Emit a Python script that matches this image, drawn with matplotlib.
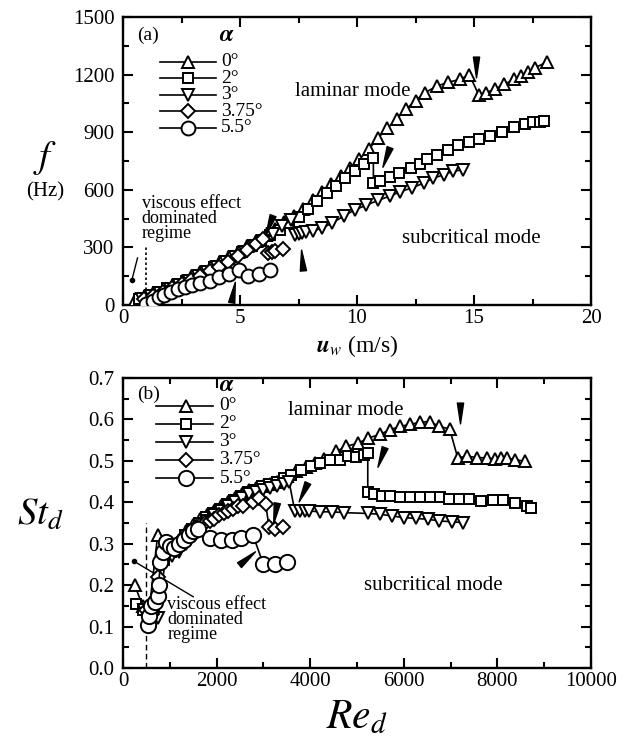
import numpy as np
import matplotlib
matplotlib.use("Agg")
import matplotlib.pyplot as plt
from matplotlib.markers import MarkerStyle
from matplotlib.path import Path
from matplotlib.transforms import Affine2D
from matplotlib.ticker import MultipleLocator

plt.rcParams['font.family'] = ['Liberation Serif', 'DejaVu Serif']
plt.rcParams['mathtext.fontset'] = 'stix'

# ---------------- (a) frequency vs. wind speed ----------------
alpha_labels = ['0°', '2°', '3°', '3.75°', '5.5°']

u_a0 = [0.5, 0.9, 1.3, 1.7, 2.1, 2.5, 2.9, 3.3, 3.7, 4.1, 4.5, 4.9, 5.3, 5.7, 6.1,
        6.5, 6.9, 7.3, 7.7, 8.1, 8.5, 8.9, 9.3, 9.7, 10.1, 10.5, 10.9, 11.3, 11.7,
        12.1, 12.5, 12.9, 13.4, 13.9, 14.4, 14.8, 15.2, 15.5, 15.9, 16.3, 16.7,
        17.0, 17.3, 17.6, 18.1]
f_a0 = [25, 40, 60, 80, 100, 120, 145, 170, 195, 220, 245, 275, 305, 335, 365,
        395, 430, 465, 500, 545, 590, 630, 670, 715, 760, 810, 870, 920, 970,
        1020, 1065, 1105, 1140, 1160, 1175, 1200, 1095, 1105, 1125, 1150, 1175,
        1195, 1215, 1235, 1265]

u_a2 = [0.7, 1.1, 1.5, 1.9, 2.3, 2.7, 3.1, 3.5, 3.9, 4.3, 4.7, 5.1, 5.5, 5.9, 6.3,
        6.7, 7.1, 7.5, 7.9, 8.3, 8.7, 9.1, 9.5, 9.9, 10.3, 10.7, 10.7, 11.0, 11.4,
        11.8, 12.3, 12.7, 13.0, 13.4, 13.9, 14.3, 14.8, 15.2, 15.7, 16.2, 16.7,
        17.2, 17.5, 17.8, 18.0]
f_a2 = [30, 48, 66, 86, 106, 126, 150, 174, 198, 222, 248, 276, 305, 334, 362,
        393, 427, 460, 498, 540, 582, 620, 660, 700, 735, 765, 635, 645, 668,
        688, 712, 732, 760, 782, 808, 832, 850, 862, 878, 902, 928, 945, 952,
        955, 958]

u_a3 = [0.8, 1.2, 1.6, 2.0, 2.4, 2.8, 3.2, 3.6, 4.0, 4.4, 4.8, 5.2, 5.6, 6.0, 6.4,
        6.8, 7.2, 7.35, 7.5, 7.65, 7.8, 8.1, 8.5, 8.95, 9.45, 9.9, 10.4, 10.9,
        11.4, 11.85, 12.35, 12.85, 13.25, 13.7, 14.1, 14.55]
f_a3 = [30, 46, 64, 84, 104, 126, 150, 174, 198, 222, 248, 276, 305, 335, 370,
        410, 445, 365, 370, 374, 378, 384, 401, 427, 465, 495, 520, 545, 567,
        590, 610, 635, 660, 678, 696, 705]

u_a375 = [0.9, 1.3, 1.7, 2.1, 2.5, 2.9, 3.3, 3.7, 4.1, 4.5, 4.9, 5.3, 5.7, 6.0,
          6.2, 6.35, 6.5, 6.85]
f_a375 = [30, 48, 68, 88, 108, 128, 152, 176, 200, 226, 254, 284, 316, 345,
          272, 276, 282, 292]

u_a55 = [1.0, 1.3, 1.55, 1.75, 2.05, 2.35, 2.65, 2.95, 3.3, 3.7, 4.1, 4.55, 4.95,
         5.35, 5.8, 6.3]
f_a55 = [5, 23, 40, 52, 66, 83, 95, 104, 114, 127, 144, 161, 184, 150, 162, 184]

# ---------------- (b) Strouhal number vs. Reynolds number ----------------
re_b0 = [250, 420, 560, 740, 900, 1050, 1200, 1350, 1500, 1650, 1800, 1950, 2100,
         2250, 2400, 2550, 2700, 2850, 3000, 3150, 3300, 3500, 3700, 3900, 4100,
         4300, 4560, 4770, 5030, 5240, 5490, 5700, 5920, 6130, 6340, 6550, 6760,
         6980, 7150, 7360, 7570, 7780, 7950, 8080, 8200, 8370, 8590]
st_b0 = [0.20, 0.15, 0.14, 0.32, 0.30, 0.29, 0.31, 0.33, 0.345, 0.36, 0.37, 0.38,
         0.39, 0.40, 0.41, 0.42, 0.43, 0.435, 0.44, 0.445, 0.45, 0.463, 0.475,
         0.485, 0.495, 0.505, 0.523, 0.535, 0.543, 0.555, 0.564, 0.575, 0.583,
         0.588, 0.593, 0.595, 0.583, 0.577, 0.508, 0.511, 0.508, 0.507, 0.505,
         0.507, 0.507, 0.503, 0.499]

re_b2 = [280, 430, 580, 740, 880, 1030, 1180, 1330, 1480, 1630, 1780, 1930, 2080,
         2230, 2380, 2530, 2680, 2830, 2980, 3130, 3280, 3430, 3585, 3797, 4009,
         4220, 4432, 4627, 4814, 4983, 5150, 5230, 5230, 5365, 5534, 5704, 5916,
         6127, 6339, 6551, 6763, 6975, 7187, 7399, 7653, 7907, 8119, 8373, 8627,
         8712]
st_b2 = [0.155, 0.14, 0.13, 0.21, 0.26, 0.28, 0.30, 0.32, 0.335, 0.35, 0.365,
         0.375, 0.385, 0.395, 0.405, 0.415, 0.425, 0.43, 0.44, 0.445, 0.45, 0.458,
         0.467, 0.479, 0.487, 0.495, 0.503, 0.503, 0.511, 0.509, 0.515, 0.518,
         0.425, 0.419, 0.415, 0.415, 0.413, 0.413, 0.413, 0.413, 0.413, 0.409,
         0.409, 0.407, 0.403, 0.405, 0.405, 0.399, 0.391, 0.387]

re_b3 = [450, 600, 750, 900, 1050, 1200, 1350, 1500, 1650, 1800, 1950, 2100, 2250,
         2400, 2550, 2700, 2850, 3000, 3150, 3300, 3450, 3550, 3670, 3780, 3880,
         3980, 4220, 4475, 4730, 5240, 5490, 5750, 6000, 6255, 6510, 6760, 7020,
         7270]
st_b3 = [0.14, 0.13, 0.12, 0.26, 0.27, 0.28, 0.30, 0.32, 0.34, 0.355, 0.37, 0.38,
         0.39, 0.40, 0.41, 0.42, 0.425, 0.43, 0.435, 0.44, 0.445, 0.45, 0.379,
         0.379, 0.379, 0.379, 0.377, 0.377, 0.375, 0.373, 0.371, 0.367, 0.363,
         0.361, 0.359, 0.355, 0.353, 0.351]

re_b375 = [500, 620, 750, 850, 950, 1050, 1150, 1250, 1350, 1450, 1550, 1650, 1750,
           1850, 1950, 2050, 2150, 2250, 2350, 2450, 2570, 2780, 2900, 3050, 3120,
           3250, 3420]
st_b375 = [0.14, 0.13, 0.22, 0.27, 0.28, 0.29, 0.30, 0.31, 0.32, 0.33, 0.34,
           0.345, 0.35, 0.355, 0.36, 0.37, 0.375, 0.38, 0.385, 0.39, 0.39, 0.40,
           0.41, 0.395, 0.34, 0.335, 0.34]

re_b55 = [530, 560, 600, 680, 740, 760, 800, 850, 920, 1000, 1100, 1200, 1300,
          1400, 1500, 1600, 1850, 2100, 2320, 2530, 2780, 3000, 3250, 3500]
st_b55 = [0.105, 0.125, 0.15, 0.16, 0.175, 0.20, 0.255, 0.28, 0.305, 0.295, 0.29,
          0.30, 0.31, 0.32, 0.33, 0.335, 0.315, 0.31, 0.31, 0.315, 0.32, 0.25,
          0.25, 0.255]

# marker style per angle of attack
marker_kinds = ['^', 's', 'v', 'D', 'o']
size_a = [8, 7, 8, 7, 10]
size_b = [8, 7, 8, 7, 11]

# wedge-shaped pointers: (x, y, rotation in degrees)
pointers_a = [(15.1, 1240, 0), (11.25, 770, -20), (6.25, 415, -20),
              (7.65, 235, 185), (4.7, 70, 170)]
pointers_b = [(7200, 0.615, 0), (5520, 0.510, -20), (3850, 0.425, -25),
              (3240, 0.375, -10), (2650, 0.265, 130)]

fig = plt.figure(figsize=(6.21, 7.44), dpi=100)
W, H = 621, 744
ax1 = fig.add_axes([123 / W, 1 - 305 / H, 468 / W, 288 / H])
ax2 = fig.add_axes([123 / W, 1 - 668 / H, 468 / W, 290 / H])

wedge = Path([(0, -1), (-0.3, 1), (0.3, 1), (0, -1)],
             [Path.MOVETO, Path.LINETO, Path.LINETO, Path.CLOSEPOLY])


def draw_series(ax, xs_list, ys_list, sizes):
    for xs, ys, mk, ms in zip(xs_list, ys_list, marker_kinds, sizes):
        ax.plot(xs, ys, color='black', lw=1.2, marker=mk, ms=ms,
                mfc='white', mec='black', mew=1.4, zorder=3)


def draw_pointers(ax, pointers):
    for x, y, ang in pointers:
        ax.plot([x], [y], ls='none', color='black', ms=15,
                marker=MarkerStyle(wedge, transform=Affine2D().rotate_deg(ang)),
                zorder=5)


def draw_legend(ax, x_line, x_mark, x_text, y0, dy, alpha_pos, sizes):
    for i, (lab, mk, ms) in enumerate(zip(alpha_labels, marker_kinds, sizes)):
        y = y0 - i * dy
        ax.plot(x_line, [y, y], transform=ax.transAxes, color='black', lw=1.2)
        ax.plot([x_mark], [y], transform=ax.transAxes, marker=mk, ms=ms,
                mfc='white', mec='black', mew=1.4)
        ax.text(x_text, y, lab, transform=ax.transAxes, fontsize=14,
                va='center', ha='left')
    ax.text(alpha_pos[0], alpha_pos[1], r'$\boldsymbol{\alpha}$',
            transform=ax.transAxes, fontsize=17, ha='center', va='center')


def style_axes(ax):
    for sp in ax.spines.values():
        sp.set_linewidth(1.7)
    ax.tick_params(which='both', direction='in', top=True, right=True,
                   labelsize=15, width=1.5, pad=6)
    ax.tick_params(which='major', length=7)
    ax.tick_params(which='minor', length=4)
    ax.tick_params(axis='x', which='both', pad=3)


# ---- panel (a)
draw_series(ax1, [u_a0, u_a2, u_a3, u_a375, u_a55],
            [f_a0, f_a2, f_a3, f_a375, f_a55], size_a)
draw_pointers(ax1, pointers_a)
ax1.set_xlim(0, 20)
ax1.set_ylim(0, 1500)
ax1.xaxis.set_major_locator(MultipleLocator(5))
ax1.xaxis.set_minor_locator(MultipleLocator(2.5))
ax1.yaxis.set_major_locator(MultipleLocator(300))
ax1.yaxis.set_minor_locator(MultipleLocator(150))
style_axes(ax1)
draw_legend(ax1, [0.08, 0.198], 0.139, 0.21, 0.845, 0.0575, (0.222, 0.935), size_a)
ax1.text(0.03, 0.965, '(a)', transform=ax1.transAxes, fontsize=14,
         ha='left', va='top')
ax1.text(9.8, 1110, 'laminar mode', fontsize=15, ha='center', va='center')
ax1.text(14.9, 345, 'subcritical mode', fontsize=15, ha='center', va='center')
ax1.text(0.8, 450, 'viscous effect\ndominated\nregime', fontsize=13,
         ha='left', va='center', linespacing=0.85)
ax1.vlines(1.0, 0, 300, colors='black', linestyles=(0, (1.5, 1.5)), lw=1.2)
ax1.plot([0.38, 0.62], [130, 245], color='black', lw=1.0)
ax1.plot([0.38], [130], 'o', color='black', ms=3)

fig.text(45 / W, 1 - 158 / H, r'$f$', fontsize=28, ha='center', va='center')
fig.text(45 / W, 1 - 192 / H, '(Hz)', fontsize=15, ha='center', va='center')
fig.text(357 / W, 1 - 346 / H, r'$\boldsymbol{u}_w$ (m/s)', fontsize=17,
         ha='center', va='center')

# ---- panel (b)
draw_series(ax2, [re_b0, re_b2, re_b3, re_b375, re_b55],
            [st_b0, st_b2, st_b3, st_b375, st_b55], size_b)
draw_pointers(ax2, pointers_b)
ax2.set_xlim(0, 10000)
ax2.set_ylim(0, 0.7)
ax2.xaxis.set_major_locator(MultipleLocator(2000))
ax2.xaxis.set_minor_locator(MultipleLocator(1000))
ax2.yaxis.set_major_locator(MultipleLocator(0.1))
ax2.yaxis.set_minor_locator(MultipleLocator(0.05))
ax2.yaxis.set_major_formatter(matplotlib.ticker.FormatStrFormatter('%.1f'))
style_axes(ax2)
draw_legend(ax2, [0.07, 0.193], 0.134, 0.206, 0.905, 0.0625, (0.222, 0.975), size_b)
ax2.text(0.03, 0.975, '(b)', transform=ax2.transAxes, fontsize=14,
         ha='left', va='top')
ax2.text(4750, 0.622, 'laminar mode', fontsize=15, ha='center', va='center')
ax2.text(6620, 0.200, 'subcritical mode', fontsize=15, ha='center', va='center')
ax2.text(950, 0.118, 'viscous effect\ndominated\nregime', fontsize=13,
         ha='left', va='center', linespacing=0.85)
ax2.vlines(500, 0, 0.35, colors='black', linestyles=(0, (4, 2.5)), lw=1.0)
ax2.plot([230, 1500], [0.258, 0.172], color='black', lw=1.0)
ax2.plot([230], [0.258], 'o', color='black', ms=3)

fig.text(40 / W, 1 - 515 / H, r'$St_d$', fontsize=28, ha='center', va='center')
fig.text(357 / W, 1 - 718 / H, r'$Re_d$', fontsize=30, ha='center', va='center')

fig.savefig('out.png', dpi=100)
